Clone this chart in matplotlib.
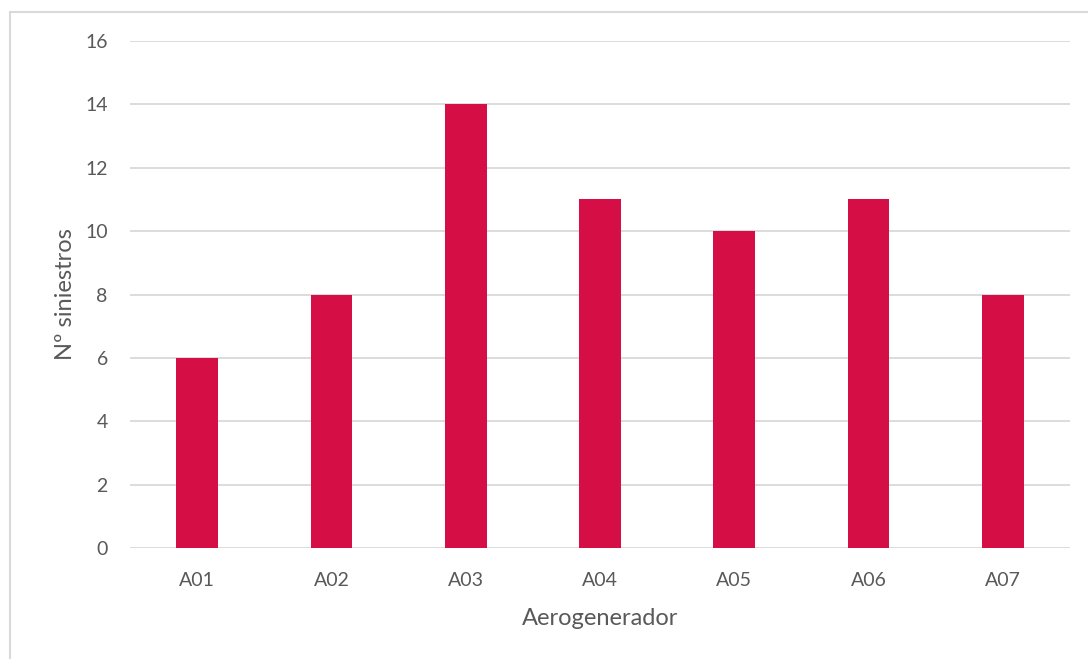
import matplotlib
matplotlib.use("Agg")
import matplotlib.pyplot as plt
from matplotlib.patches import Rectangle

categories = ["A01", "A02", "A03", "A04", "A05", "A06", "A07"]
values = [6, 8, 14, 11, 10, 11, 8]
yticks = [0, 2, 4, 6, 8, 10, 12, 14, 16]

plt.rcParams['font.family'] = ['Lato', 'DejaVu Sans']

fig = plt.figure(figsize=(10.88, 6.59), dpi=100)
ax = fig.add_axes([130/1088, 1-548/659, 940/1088, 507/659])

x = list(range(len(categories)))
ax.bar(x, values, width=0.31, color="#D50F45", zorder=3)
ax.set_xlim(-0.5, len(categories)-0.5)
ax.set_ylim(0, 16)
ax.set_yticks(yticks)
ax.set_xticks(x)
ax.set_xticklabels(categories)
ax.grid(axis='y', color="#D9D9D9", linewidth=1.3, zorder=0)
for s in ax.spines.values():
    s.set_visible(False)
ax.tick_params(length=0, labelsize=14, labelcolor="#595959")
ax.tick_params(axis='y', pad=16)
ax.tick_params(axis='x', pad=17)
ax.set_xlabel("Aerogenerador", fontsize=17, color="#595959")
ax.set_ylabel("Nº siniestros", fontsize=17, color="#595959")
ax.xaxis.set_label_coords(0.5, -(608-548)/507)
ax.yaxis.set_label_coords((76-130)/940, 0.5)

fig.patches.append(Rectangle((10/1088, -0.1), 1.2, (1-12/659)+0.1, transform=fig.transFigure,
                             fill=False, edgecolor="#D9D9D9", linewidth=1.5))

fig.savefig("out.png", dpi=100)
